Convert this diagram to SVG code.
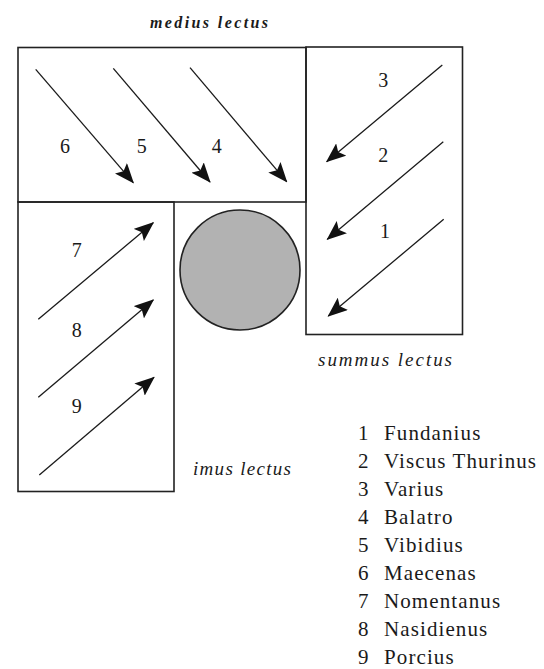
<svg xmlns="http://www.w3.org/2000/svg" width="544" height="669" viewBox="0 0 544 669">
<style>
  .box { fill: none; stroke: #222; stroke-width: 1.6; }
  .arr { fill: none; stroke: #1a1a1a; stroke-width: 1.3; marker-end: url(#ah); }
  .num { font-family: "Liberation Serif", "DejaVu Serif", "Times New Roman", serif; font-size: 20px; fill: #1a1a1a; text-anchor: middle; }
  .lab { font-family: "Liberation Serif", "DejaVu Serif", "Times New Roman", serif; font-style: italic; font-size: 19px; fill: #1a1a1a; }
  .leg { font-family: "Liberation Serif", "DejaVu Serif", "Times New Roman", serif; font-size: 21px; fill: #1a1a1a; letter-spacing: 1.1px; }
</style>
<defs>
  <marker id="ah" viewBox="0 0 20 16" refX="19" refY="8" markerWidth="20" markerHeight="16" markerUnits="userSpaceOnUse" orient="auto">
    <path d="M0,0 L20,8 L0,16 L4,8 Z" fill="#111"/>
  </marker>
</defs>
<rect width="544" height="669" fill="#fff"/>

<g id="medius">
  <rect class="box" x="18" y="47.5" width="288" height="154.5"/>
  <text class="lab" x="150" y="27.5" font-weight="bold" textLength="118" lengthAdjust="spacing" style="font-size:16px">medius lectus</text>
</g>
<g id="summus">
  <rect class="box" x="306" y="47" width="156.5" height="287.5"/>
  <text class="lab" x="318" y="366" textLength="134" lengthAdjust="spacing">summus lectus</text>
</g>
<g id="imus">
  <rect class="box" x="18" y="202" width="156" height="289.5"/>
  <text class="lab" x="193" y="475" textLength="98" lengthAdjust="spacing">imus lectus</text>
</g>
<g id="table">
  <circle cx="240" cy="270" r="60" fill="#b2b2b2" stroke="#222" stroke-width="1.6"/>
</g>

<g id="connectors">
  <line class="arr" x1="35.7" y1="69.3" x2="133.3" y2="182.7"/>
  <line class="arr" x1="113.3" y1="68.3" x2="210" y2="182"/>
  <line class="arr" x1="190" y1="67.7" x2="286.7" y2="181.7"/>
  <line class="arr" x1="442.3" y1="65" x2="326.7" y2="161.7"/>
  <line class="arr" x1="443.3" y1="141.7" x2="327.3" y2="239.3"/>
  <line class="arr" x1="443.7" y1="219.3" x2="328.3" y2="316"/>
  <line class="arr" x1="38.3" y1="319.3" x2="153.3" y2="222.7"/>
  <line class="arr" x1="38.3" y1="397.3" x2="153.3" y2="300"/>
  <line class="arr" x1="39.3" y1="475" x2="154" y2="377.3"/>
</g>

<g id="seat-labels">
  <text class="num" x="65" y="153">6</text>
  <text class="num" x="141.7" y="153">5</text>
  <text class="num" x="216.7" y="153">4</text>
  <text class="num" x="383.3" y="87">3</text>
  <text class="num" x="383.3" y="162">2</text>
  <text class="num" x="385" y="238">1</text>
  <text class="num" x="76.7" y="257">7</text>
  <text class="num" x="76.7" y="337">8</text>
  <text class="num" x="76.7" y="413">9</text>
</g>

<g id="legend">
  <text class="leg" x="358" y="440">1</text><text class="leg" x="384" y="440">Fundanius</text>
  <text class="leg" x="358" y="468">2</text><text class="leg" x="384" y="468">Viscus Thurinus</text>
  <text class="leg" x="358" y="496">3</text><text class="leg" x="384" y="496">Varius</text>
  <text class="leg" x="358" y="524">4</text><text class="leg" x="384" y="524">Balatro</text>
  <text class="leg" x="358" y="552">5</text><text class="leg" x="384" y="552">Vibidius</text>
  <text class="leg" x="358" y="580">6</text><text class="leg" x="384" y="580">Maecenas</text>
  <text class="leg" x="358" y="608">7</text><text class="leg" x="384" y="608">Nomentanus</text>
  <text class="leg" x="358" y="636">8</text><text class="leg" x="384" y="636">Nasidienus</text>
  <text class="leg" x="358" y="664">9</text><text class="leg" x="384" y="664">Porcius</text>
</g>
</svg>
